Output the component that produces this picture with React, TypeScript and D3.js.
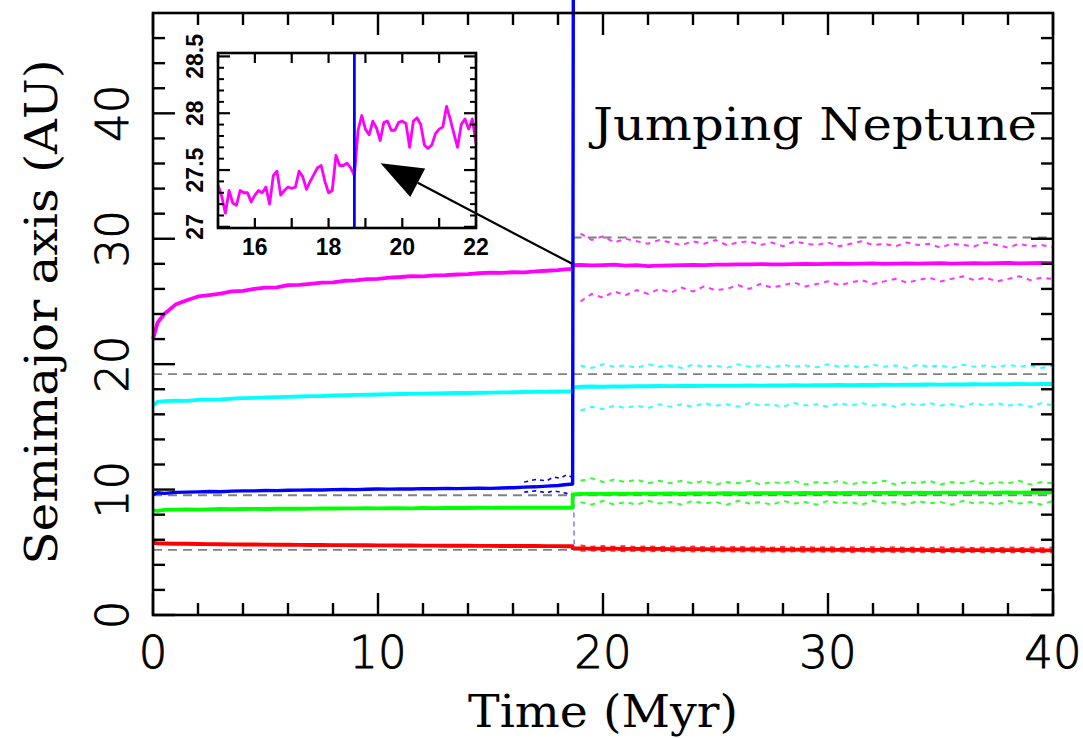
import React from 'react';
import * as d3 from 'd3';

const W = 1083, H = 739;

// ---------- data ----------
const xTicksMajor = [0, 10, 20, 30, 40];
const xTicksMinor = [2, 4, 6, 8, 12, 14, 16, 18, 22, 24, 26, 28, 32, 34, 36, 38];
const yTicksMajor = [0, 10, 20, 30, 40];
const yTicksMinor = [2, 4, 6, 8, 12, 14, 16, 18, 22, 24, 26, 28, 32, 34, 36, 38, 42, 44, 46];

const tPre = [0, 0.2, 0.5, 1, 1.5, 2, 2.5, 3, 3.5, 4, 4.5, 5, 5.5, 6, 6.5, 7, 7.5, 8, 8.5, 9, 9.5, 10, 10.5, 11, 11.5, 12, 12.5, 13, 13.5, 14, 14.5, 15, 15.5, 16, 16.5, 17, 17.5, 18, 18.3, 18.65];
const magentaPre = [22.0, 23.3, 24.0, 24.75, 25.1, 25.4, 25.5, 25.62, 25.8, 25.85, 26.0, 26.1, 26.12, 26.3, 26.32, 26.4, 26.5, 26.52, 26.65, 26.68, 26.78, 26.8, 26.9, 26.95, 27.02, 27.0, 27.08, 27.1, 27.15, 27.18, 27.25, 27.3, 27.28, 27.33, 27.32, 27.4, 27.45, 27.5, 27.55, 27.6];
const cyanPre = [16.7, 17.0, 17.05, 17.1, 17.08, 17.15, 17.18, 17.2, 17.25, 17.3, 17.32, 17.35, 17.38, 17.4, 17.42, 17.45, 17.46, 17.5, 17.52, 17.55, 17.56, 17.58, 17.6, 17.62, 17.63, 17.65, 17.66, 17.68, 17.7, 17.7, 17.72, 17.73, 17.75, 17.76, 17.78, 17.8, 17.8, 17.82, 17.83, 17.85];
const bluePre = [9.6, 9.75, 9.7, 9.78, 9.8, 9.82, 9.85, 9.83, 9.88, 9.9, 9.9, 9.93, 9.92, 9.95, 9.96, 9.98, 9.97, 10.0, 10.02, 10.0, 10.03, 10.05, 10.04, 10.06, 10.05, 10.08, 10.07, 10.1, 10.08, 10.1, 10.12, 10.1, 10.13, 10.15, 10.2, 10.22, 10.28, 10.33, 10.38, 10.45];
const greenPre = [8.35, 8.3, 8.38, 8.4, 8.42, 8.4, 8.43, 8.45, 8.44, 8.45, 8.46, 8.45, 8.47, 8.48, 8.47, 8.48, 8.5, 8.49, 8.5, 8.5, 8.52, 8.5, 8.51, 8.52, 8.5, 8.53, 8.52, 8.53, 8.54, 8.53, 8.55, 8.54, 8.55, 8.55, 8.56, 8.55, 8.56, 8.55, 8.56, 8.55];
const redPre = [5.75, 5.72, 5.7, 5.68, 5.68, 5.66, 5.65, 5.64, 5.63, 5.62, 5.62, 5.61, 5.6, 5.6, 5.59, 5.58, 5.58, 5.57, 5.57, 5.56, 5.56, 5.55, 5.55, 5.54, 5.54, 5.53, 5.53, 5.52, 5.52, 5.52, 5.51, 5.51, 5.5, 5.5, 5.5, 5.5, 5.49, 5.49, 5.48, 5.48];

const tPost = [18.65, 19, 19.5, 20, 20.5, 21, 21.5, 22, 22.5, 23, 23.5, 24, 24.5, 25, 25.5, 26, 26.5, 27, 27.5, 28, 28.5, 29, 29.5, 30, 30.5, 31, 31.5, 32, 32.5, 33, 33.5, 34, 34.5, 35, 35.5, 36, 36.5, 37, 37.5, 38, 38.5, 39, 39.5, 40];
const magentaPost = [27.9, 27.92, 27.88, 27.9, 27.93, 27.86, 27.9, 27.82, 27.85, 27.88, 27.9, 27.92, 27.9, 27.94, 27.93, 27.96, 27.95, 27.98, 27.96, 27.95, 27.98, 28.0, 27.97, 28.0, 28.02, 27.99, 28.01, 28.03, 28.0, 28.02, 28.04, 28.01, 28.03, 28.05, 28.02, 28.04, 28.06, 28.03, 28.05, 28.07, 28.04, 28.06, 28.08, 28.05];
const cyanPost = [18.15, 18.2, 18.22, 18.2, 18.23, 18.22, 18.25, 18.24, 18.26, 18.25, 18.27, 18.26, 18.28, 18.27, 18.29, 18.28, 18.3, 18.29, 18.31, 18.3, 18.32, 18.31, 18.33, 18.32, 18.34, 18.33, 18.35, 18.34, 18.36, 18.35, 18.37, 18.36, 18.38, 18.37, 18.39, 18.38, 18.4, 18.39, 18.41, 18.4, 18.42, 18.41, 18.43, 18.42];
const greenPost = [9.62, 9.65, 9.66, 9.65, 9.67, 9.66, 9.68, 9.67, 9.68, 9.69, 9.68, 9.7, 9.69, 9.7, 9.71, 9.7, 9.71, 9.72, 9.71, 9.72, 9.71, 9.73, 9.72, 9.73, 9.72, 9.74, 9.73, 9.74, 9.73, 9.75, 9.74, 9.75, 9.74, 9.75, 9.76, 9.75, 9.76, 9.75, 9.76, 9.77, 9.76, 9.77, 9.76, 9.77];
const redPost = [5.33, 5.32, 5.3, 5.3, 5.29, 5.28, 5.28, 5.27, 5.27, 5.26, 5.26, 5.25, 5.25, 5.24, 5.24, 5.23, 5.23, 5.23, 5.22, 5.22, 5.22, 5.21, 5.21, 5.21, 5.2, 5.2, 5.2, 5.2, 5.19, 5.19, 5.19, 5.19, 5.18, 5.18, 5.18, 5.18, 5.18, 5.17, 5.17, 5.17, 5.17, 5.17, 5.16, 5.16];

// aphelion / perihelion (dotted) after the jump
const magentaHigh = [30.2, 30.4, 29.9, 30.2, 29.7, 30.0, 29.8, 29.6, 29.9, 29.7, 29.5, 29.8, 29.6, 29.9, 29.5, 29.7, 29.8, 29.5, 29.7, 29.4, 29.8, 29.6, 29.5, 29.7, 29.4, 29.6, 29.8, 29.5, 29.6, 29.4, 29.7, 29.5, 29.6, 29.3, 29.6, 29.5, 29.4, 29.7, 29.5, 29.3, 29.6, 29.4, 29.5, 29.3];
const magentaLow = [25.2, 25.0, 25.6, 25.3, 25.8, 25.5, 25.9, 25.6, 26.0, 25.7, 26.1, 25.8, 26.2, 25.9, 26.0, 26.3, 26.0, 26.4, 26.1, 26.3, 26.5, 26.2, 26.4, 26.6, 26.3, 26.5, 26.7, 26.4, 26.6, 26.8, 26.5, 26.7, 26.9, 26.6, 26.8, 27.0, 26.7, 26.9, 26.6, 26.8, 27.0, 26.7, 26.9, 26.8];
const cyanHigh = [19.6, 19.9, 19.7, 20.0, 19.8, 19.9, 19.7, 20.0, 19.8, 19.9, 19.7, 19.95, 19.8, 19.9, 19.7, 20.0, 19.8, 19.9, 19.7, 19.95, 19.8, 19.9, 19.75, 20.0, 19.8, 19.9, 19.7, 19.95, 19.8, 19.9, 19.7, 19.95, 19.8, 19.9, 19.7, 19.95, 19.8, 19.9, 19.75, 19.95, 19.8, 19.9, 19.7, 19.9];
const cyanLow = [15.5, 16.3, 16.6, 16.4, 16.7, 16.5, 16.7, 16.5, 16.8, 16.6, 16.8, 16.6, 16.9, 16.7, 16.8, 16.6, 16.9, 16.7, 16.8, 16.6, 16.9, 16.7, 16.8, 16.6, 16.9, 16.7, 16.9, 16.7, 16.8, 16.6, 16.9, 16.7, 16.9, 16.7, 16.8, 16.6, 16.9, 16.7, 16.9, 16.7, 16.8, 16.6, 16.9, 16.7];
const greenHigh = [10.9, 10.7, 10.9, 10.6, 10.8, 10.6, 10.8, 10.5, 10.7, 10.5, 10.7, 10.5, 10.7, 10.4, 10.6, 10.5, 10.7, 10.4, 10.6, 10.5, 10.7, 10.4, 10.6, 10.5, 10.7, 10.4, 10.6, 10.5, 10.7, 10.4, 10.6, 10.5, 10.7, 10.4, 10.6, 10.5, 10.7, 10.4, 10.6, 10.5, 10.7, 10.4, 10.6, 10.5];
const greenLow = [8.8, 9.0, 8.8, 9.1, 8.8, 9.0, 8.8, 9.1, 8.9, 9.0, 8.8, 9.1, 8.9, 9.0, 8.8, 9.1, 8.9, 9.0, 8.8, 9.1, 8.9, 9.0, 8.8, 9.1, 8.9, 9.0, 8.8, 9.1, 8.9, 9.0, 8.8, 9.1, 8.9, 9.0, 8.8, 9.1, 8.9, 9.0, 8.8, 9.1, 8.9, 9.0, 8.8, 9.1];
const redHigh = [5.5, 5.55, 5.45, 5.5, 5.45, 5.5, 5.42, 5.48, 5.42, 5.46, 5.4, 5.46, 5.4, 5.45, 5.38, 5.44, 5.38, 5.44, 5.37, 5.43, 5.37, 5.42, 5.36, 5.42, 5.36, 5.41, 5.35, 5.41, 5.35, 5.4, 5.35, 5.4, 5.34, 5.4, 5.34, 5.39, 5.34, 5.39, 5.33, 5.39, 5.33, 5.38, 5.33, 5.38];
const redLow = [5.1, 5.12, 5.14, 5.1, 5.13, 5.09, 5.12, 5.08, 5.11, 5.08, 5.1, 5.07, 5.1, 5.06, 5.09, 5.06, 5.09, 5.05, 5.08, 5.05, 5.08, 5.04, 5.07, 5.04, 5.07, 5.03, 5.06, 5.03, 5.06, 5.02, 5.05, 5.02, 5.05, 5.01, 5.04, 5.01, 5.04, 5.0, 5.03, 5.0, 5.03, 5.0, 5.02, 5.0];

// blue (ejected planet) extras
const blueDotT = [16.5, 17.0, 17.5, 17.8, 18.1, 18.4, 18.6];
const blueDotHigh = [10.6, 10.8, 10.7, 11.0, 10.9, 11.2, 11.0];
const blueDotLow = [9.8, 9.9, 9.75, 9.9, 9.8, 9.7, 9.85];
const blueEjectT = [18.65, 18.68];
const blueEjectA = [10.45, 49.3];
const blueDropT = [18.7, 18.72];
const blueDropA = [9.6, 5.3];

// present-day semimajor axes (dashed)
const refA = [5.2, 9.55, 19.2, 30.1];
const refStartT = [0, 0, 0, 18.65];

// inset (zoom of Neptune's jump)
const insetT = [15.0, 15.1, 15.2, 15.3, 15.4, 15.5, 15.6, 15.7, 15.8, 15.9, 16.0, 16.1, 16.2, 16.3, 16.4, 16.5, 16.6, 16.7, 16.8, 16.9, 17.0, 17.1, 17.2, 17.3, 17.4, 17.5, 17.6, 17.7, 17.8, 17.9, 18.0, 18.1, 18.2, 18.3, 18.4, 18.5, 18.6, 18.7, 18.8, 18.9, 19.0, 19.1, 19.2, 19.3, 19.4, 19.5, 19.6, 19.7, 19.8, 19.9, 20.0, 20.1, 20.2, 20.3, 20.4, 20.5, 20.6, 20.7, 20.8, 20.9, 21.0, 21.1, 21.2, 21.3, 21.4, 21.5, 21.6, 21.7, 21.8, 21.9, 22.0];
const insetA = [27.37, 27.27, 27.12, 27.32, 27.21, 27.19, 27.32, 27.30, 27.30, 27.22, 27.28, 27.32, 27.30, 27.35, 27.20, 27.45, 27.49, 27.28, 27.32, 27.35, 27.34, 27.35, 27.49, 27.44, 27.33, 27.40, 27.46, 27.52, 27.54, 27.40, 27.30, 27.32, 27.63, 27.54, 27.54, 27.56, 27.52, 27.45, 27.85, 27.98, 27.86, 27.81, 27.93, 27.87, 27.76, 27.92, 27.93, 27.85, 27.85, 27.92, 27.93, 27.91, 27.70, 27.93, 27.96, 27.90, 27.72, 27.69, 27.72, 27.82, 27.86, 27.88, 28.06, 27.95, 27.82, 27.70, 27.90, 27.95, 27.86, 27.95, 27.73];
const insetJumpT = 18.7;
const insetXTicks = [15, 16, 17, 18, 19, 20, 21, 22];
const insetXLabels = [16, 18, 20, 22];
const insetYMajor = [27, 27.5, 28, 28.5];
const insetYMinor = [27.1, 27.2, 27.3, 27.4, 27.6, 27.7, 27.8, 27.9, 28.1, 28.2, 28.3, 28.4];

const arrowTail = [18.63, 28.0];   // main-plot coordinates
const arrowTip = [19.41, 27.56];   // inset coordinates

const COLORS = { magenta: '#ff00ff', cyan: '#00ffff', blue: '#0000ff', green: '#00ff00', red: '#ff0000' };

// ---------- scales ----------
const x = d3.scaleLinear().domain([0, 40]).range([153, 1053]);
const y = d3.scaleLinear().domain([0, 48]).range([615, 13]);
const xi = d3.scaleLinear().domain([15, 22]).range([218, 476]);
const yi = d3.scaleLinear().domain([26.99, 28.53]).range([228, 53]);

const zip = (ts: number[], vs: number[]) => ts.map((t, i) => [t, vs[i]] as [number, number]);
const line = d3.line<[number, number]>().x(d => x(d[0])).y(d => y(d[1]));
const lineI = d3.line<[number, number]>().x(d => xi(d[0])).y(d => yi(d[1]));

const TICK_FONT = '"DejaVu Sans", sans-serif';
const TITLE_FONT = '"DejaVu Serif", serif';

export default function App() {
  const solid = [
    { c: COLORS.red, pre: redPre, post: redPost },
    { c: COLORS.green, pre: greenPre, post: greenPost },
    { c: COLORS.cyan, pre: cyanPre, post: cyanPost },
    { c: COLORS.magenta, pre: magentaPre, post: magentaPost },
  ];
  const dotted = [
    { c: COLORS.magenta, v: magentaHigh }, { c: COLORS.magenta, v: magentaLow },
    { c: COLORS.cyan, v: cyanHigh }, { c: COLORS.cyan, v: cyanLow },
    { c: COLORS.green, v: greenHigh }, { c: COLORS.green, v: greenLow },
    { c: COLORS.red, v: redHigh }, { c: COLORS.red, v: redLow },
  ];

  const L = 153, R = 1053, T = 13, B = 615;
  const majorLen = 22, minorLen = 12;

  // arrow geometry
  const tx = x(arrowTail[0]), ty = y(arrowTail[1]);
  const hx = xi(arrowTip[0]), hy = yi(arrowTip[1]);
  const dx = tx - hx, dy = ty - hy, dl = Math.hypot(dx, dy);
  const ux = dx / dl, uy = dy / dl;
  const headLen = 42, headHalf = 16;
  const bx = hx + ux * headLen, by = hy + uy * headLen;
  const head = `M${hx},${hy} L${bx - uy * headHalf},${by + ux * headHalf} L${bx + uy * headHalf},${by - ux * headHalf} Z`;

  const iL = xi.range()[0], iR = xi.range()[1], iT = yi.range()[1], iB = yi.range()[0];

  return (
    <svg width={W} height={H} style={{ position: 'absolute', left: 0, top: 0, background: '#fff' }}>
      <rect x={0} y={0} width={W} height={H} fill="#fff" />
      {/* dashed present-day orbits */}
      {refA.map((a, i) => (
        <line key={'ref' + i} x1={x(refStartT[i])} x2={x(40)} y1={y(a)} y2={y(a)}
          stroke="#808080" strokeWidth={1.8} strokeDasharray="9,6" />
      ))}
      {/* dotted peri/aphelion */}
      {dotted.map((d, i) => (
        <path key={'dot' + i} d={line(zip(tPost.slice(1), d.v.slice(1))) || ''} fill="none"
          stroke={d.c} strokeWidth={2} strokeDasharray="5,5" opacity={0.8} />
      ))}
      <path d={line(zip(blueDotT, blueDotHigh)) || ''} fill="none" stroke={COLORS.blue} strokeWidth={1.6} strokeDasharray="4,4" />
      <path d={line(zip(blueDotT, blueDotLow)) || ''} fill="none" stroke={COLORS.blue} strokeWidth={1.6} strokeDasharray="4,4" />
      <path d={line(zip(blueDropT, blueDropA)) || ''} fill="none" stroke={COLORS.blue} strokeWidth={1.3} strokeDasharray="5,4" opacity={0.6} />
      {/* solid semimajor axes */}
      {solid.map((s, i) => (
        <path key={'sol' + i} d={line([...zip(tPre, s.pre), ...zip(tPost, s.post)]) || ''} fill="none"
          stroke={s.c} strokeWidth={3.8} strokeLinejoin="round" />
      ))}
      <path d={line([...zip(tPre, bluePre), ...zip(blueEjectT, blueEjectA)]) || ''} fill="none"
        stroke={COLORS.blue} strokeWidth={3.4} strokeLinejoin="round" />

      {/* frame & ticks */}
      <rect x={L} y={T} width={R - L} height={B - T} fill="none" stroke="#000" strokeWidth={2.6} />
      {xTicksMajor.map(t => (
        <g key={'xM' + t}>
          <line x1={x(t)} x2={x(t)} y1={B} y2={B - majorLen} stroke="#000" strokeWidth={2.4} />
          <line x1={x(t)} x2={x(t)} y1={T} y2={T + majorLen} stroke="#000" strokeWidth={2.4} />
        </g>
      ))}
      {xTicksMinor.map(t => (
        <g key={'xm' + t}>
          <line x1={x(t)} x2={x(t)} y1={B} y2={B - minorLen} stroke="#000" strokeWidth={2.4} />
          <line x1={x(t)} x2={x(t)} y1={T} y2={T + minorLen} stroke="#000" strokeWidth={2.4} />
        </g>
      ))}
      {yTicksMajor.map(v => (
        <g key={'yM' + v}>
          <line x1={L} x2={L + majorLen} y1={y(v)} y2={y(v)} stroke="#000" strokeWidth={2.4} />
          <line x1={R} x2={R - majorLen} y1={y(v)} y2={y(v)} stroke="#000" strokeWidth={2.4} />
        </g>
      ))}
      {yTicksMinor.map(v => (
        <g key={'ym' + v}>
          <line x1={L} x2={L + minorLen} y1={y(v)} y2={y(v)} stroke="#000" strokeWidth={2.4} />
          <line x1={R} x2={R - minorLen} y1={y(v)} y2={y(v)} stroke="#000" strokeWidth={2.4} />
        </g>
      ))}
      {xTicksMajor.map(t => (
        <text key={'xl' + t} x={x(t)} y={668} textAnchor="middle" fontFamily={TICK_FONT}
          fontWeight={200} fontSize={45} fill="#000" stroke="#000" strokeWidth={0.9}>{t}</text>
      ))}
      {yTicksMajor.map(v => (
        <text key={'yl' + v} transform={`translate(128,${y(v)}) rotate(-90)`} textAnchor="middle"
          fontFamily={TICK_FONT} fontWeight={200} fontSize={45} fill="#000" stroke="#000" strokeWidth={0.9}>{v}</text>
      ))}
      <text x={603} y={727} textAnchor="middle" fontFamily={TITLE_FONT} fontSize={44}
        textLength={270} lengthAdjust="spacingAndGlyphs" fill="#000">Time (Myr)</text>
      <text transform="translate(57,312) rotate(-90)" textAnchor="middle" fontFamily={TITLE_FONT}
        fontSize={44} textLength={505} lengthAdjust="spacingAndGlyphs" fill="#000">Semimajor axis (AU)</text>
      <text x={593} y={140} fontFamily={TITLE_FONT} fontSize={44} textLength={444}
        lengthAdjust="spacingAndGlyphs" fill="#000">Jumping Neptune</text>

      {/* inset */}
      <rect x={iL} y={iT} width={iR - iL} height={iB - iT} fill="#fff" />
      <path d={lineI(zip(insetT, insetA)) || ''} fill="none" stroke={COLORS.magenta} strokeWidth={2.8} strokeLinejoin="round" />
      <line x1={xi(insetJumpT)} x2={xi(insetJumpT)} y1={iB} y2={iT} stroke={COLORS.blue} strokeWidth={2.8} />
      <rect x={iL} y={iT} width={iR - iL} height={iB - iT} fill="none" stroke="#000" strokeWidth={2.6} />
      {insetXTicks.map(t => (
        <g key={'ixt' + t}>
          <line x1={xi(t)} x2={xi(t)} y1={iB} y2={iB - 10} stroke="#000" strokeWidth={2.2} />
          <line x1={xi(t)} x2={xi(t)} y1={iT} y2={iT + 10} stroke="#000" strokeWidth={2.2} />
        </g>
      ))}
      {insetYMajor.map(v => (
        <g key={'iyM' + v}>
          <line x1={iL} x2={iL + 12} y1={yi(v)} y2={yi(v)} stroke="#000" strokeWidth={2.2} />
          <line x1={iR} x2={iR - 12} y1={yi(v)} y2={yi(v)} stroke="#000" strokeWidth={2.2} />
        </g>
      ))}
      {insetYMinor.map(v => (
        <g key={'iym' + v}>
          <line x1={iL} x2={iL + 6} y1={yi(v)} y2={yi(v)} stroke="#000" strokeWidth={2} />
          <line x1={iR} x2={iR - 6} y1={yi(v)} y2={yi(v)} stroke="#000" strokeWidth={2} />
        </g>
      ))}
      {insetXLabels.map(t => (
        <text key={'ixl' + t} x={xi(t)} y={255} textAnchor="middle" fontFamily='"Liberation Sans", Arial, sans-serif'
          fontWeight="bold" fontSize={23} fill="#000">{t}</text>
      ))}
      {insetYMajor.map(v => (
        <text key={'iyl' + v} transform={`translate(203,${yi(v)}) rotate(-90)`} textAnchor="middle"
          fontFamily='"Liberation Sans", Arial, sans-serif' fontWeight="bold" fontSize={23} fill="#000">{v}</text>
      ))}

      {/* arrow */}
      <line x1={tx} y1={ty} x2={bx} y2={by} stroke="#000" strokeWidth={2.2} />
      <path d={head} fill="#000" />
    </svg>
  );
}
